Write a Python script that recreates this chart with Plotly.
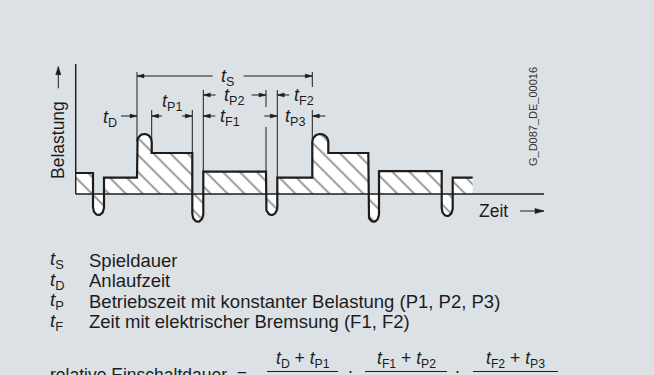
import numpy as np
import plotly.graph_objects as go

# ---------------- data ----------------
# phases of the load cycle (P: constant load, F: electrical braking dip, D: start-up peak)
phases = ["P2", "F2", "P3", "D", "P1", "F1", "P2", "F2", "P3", "D", "P1", "F1", "P2", "F2", "P3"]
durations = [17.3, 11.0, 33.0, 14.7, 40.6, 11.0, 62.7, 11.3, 35.0, 16.0, 40.0, 10.7, 62.7, 11.0, 20.0]
levels = [21.0, -21.0, 16.3, 60.0, 41.0, -27.7, 22.3, -21.0, 16.3, 60.0, 41.0, -27.7, 22.8, -22.0, 16.3]

legend_symbols = ["S", "D", "P", "F"]
legend_texts = ["Spieldauer", "Anlaufzeit",
                "Betriebszeit mit konstanter Belastung (P1, P2, P3)",
                "Zeit mit elektrischer Bremsung (F1, F2)"]
formula_label = "relative Einschaltdauer  ="
formula_terms = [("D", "P1"), ("F1", "P2"), ("F2", "P3")]
y_label = "Belastung"
x_label = "Zeit"
doc_id = "G_D087_DE_00016"

# ---------------- styling ----------------
BG = "#dce1e6"
INK = "#1c1c1c"
FONT = "Liberation Sans, Arial, sans-serif"
W, H = 654, 375
X0PX, Y0PX = 75.7, 194.0          # origin of the load/time axes in the picture

bounds = np.concatenate([[0.0], np.cumsum(durations)])

# ---------------- load curve ----------------
xs, ys = [], []
for i, (ph, lev) in enumerate(zip(phases, levels)):
    t0, t1 = bounds[i], bounds[i + 1]
    if ph.startswith("P"):
        xs += [t0, t1]
        ys += [lev, lev]
    elif ph.startswith("F"):
        rx, ry = (t1 - t0) / 2, 8.0
        cx, cy = t0 + rx, lev + ry
        ang = np.linspace(np.pi, 2 * np.pi, 25)
        xs += list(cx + rx * np.cos(ang))
        ys += list(cy + ry * np.sin(ang))
    else:  # D: start-up peak
        rx, ry = (t1 - t0) / 2, 8.0
        cx, cy = t0 + rx, lev - ry
        ang = np.linspace(np.pi, 0, 25)
        xs += list(cx + rx * np.cos(ang))
        ys += list(cy + ry * np.sin(ang))

fig = go.Figure()
fig.add_trace(go.Scatter(
    x=xs, y=ys, mode="lines", fill="tozeroy",
    fillcolor="white",
    fillpattern=dict(shape="\\", bgcolor="white", fgcolor=INK, size=12, solidity=0.15),
    line=dict(color=INK, width=2.2), hoverinfo="skip", showlegend=False))

# ---------------- axes (baseline, load axis) ----------------
t_end_axis = 544 - X0PX
fig.add_trace(go.Scatter(x=[0, t_end_axis], y=[0, 0], mode="lines",
                         line=dict(color=INK, width=1.5), hoverinfo="skip", showlegend=False))
fig.add_trace(go.Scatter(x=[0, 0], y=[0, Y0PX - 64], mode="lines",
                         line=dict(color=INK, width=1.4), hoverinfo="skip", showlegend=False))

# ---------------- dimension lines ----------------
seg_x, seg_y, head_x, head_y = [], [], [], []


def line(x0, y0, x1, y1):
    seg_x.extend([x0, x1, None])
    seg_y.extend([y0, y1, None])


def harrow(tail, tip, y, L=7.0, w=1.9):
    line(tail, y, tip, y)
    d = 1 if tip > tail else -1
    head_x.extend([tip, tip - d * L, tip - d * L, tip, None])
    head_y.extend([y, y + w, y - w, y, None])


def varrow(x, tail, tip, L=8.0, w=2.6):
    line(x, tail, x, tip)
    d = 1 if tip > tail else -1
    head_x.extend([x, x - w, x + w, x, None])
    head_y.extend([tip, tip - d * L, tip - d * L, tip, None])


def harrow2(tail, tip, y, L=9.0, w=2.6):
    line(tail, y, tip, y)
    d = 1 if tip > tail else -1
    head_x.extend([tip, tip - d * L, tip - d * L, tip, None])
    head_y.extend([y, y + w, y - w, y, None])


bD, bP1, bF1, bP2, bF2, bP3, bN = [bounds[k] for k in range(3, 10)]
lev_D, lev_P1, lev_P2, lev_P3 = levels[3], levels[4], levels[6], levels[8]
ROW_S, ROW_A, ROW_B = 118.0, 99.0, 78.0

# extension lines
line(bD, ROW_S + 4, bD, lev_D - 8)
line(bP1, ROW_B + 6, bP1, lev_P1)
line(bF1, ROW_B + 6, bF1, lev_P1)
line(bP2, ROW_A + 5, bP2, lev_P2)
line(bF2, ROW_A + 5, bF2, ROW_B + 9)
line(bF2, ROW_B - 11, bF2, lev_P2)
line(bP3, ROW_A + 5, bP3, lev_P3)
line(bN, ROW_S + 4, bN, ROW_S - 11)
line(bN, ROW_B + 6, bN, lev_D - 8)

mid_S = (bD + bN) / 2
harrow(mid_S - 12, bD, ROW_S)
harrow(mid_S + 19, bN, ROW_S)
mid_P2 = (bP2 + bF2) / 2
harrow(mid_P2 - 19, bP2, ROW_A)
harrow(mid_P2 + 17, bF2, ROW_A)
harrow(bP3 + 12, bP3, ROW_A)
harrow(bD - 16, bD, ROW_B)
mid_P1 = (bP1 + bF1) / 2
harrow(mid_P1 - 10, bP1, ROW_B)
harrow(mid_P1 + 10, bF1, ROW_B)
harrow(bP2 + 12, bP2, ROW_B)
harrow(bP3 - 13, bP3, ROW_B)
harrow(bN + 13, bN, ROW_B)

# axis arrows
varrow(-17.4, Y0PX - 88.3, Y0PX - 66.7)
harrow2(520 - X0PX, 544 - X0PX, -17.0)

fig.add_trace(go.Scatter(x=seg_x, y=seg_y, mode="lines", line=dict(color=INK, width=1),
                         hoverinfo="skip", showlegend=False))
fig.add_trace(go.Scatter(x=head_x, y=head_y, mode="lines", fill="toself", fillcolor=INK,
                         line=dict(color=INK, width=0.5), hoverinfo="skip", showlegend=False))


def tlabel(sub):
    return "<i>t</i><sub>%s</sub>" % sub


ann = []


def dtext(x, y, text, size=18, **kw):
    d = dict(x=x, y=y, xref="x", yref="y", text=text, showarrow=False,
             font=dict(family=FONT, size=size, color=INK), xanchor="center", yanchor="middle")
    d.update(kw)
    ann.append(d)


def ptext(xpx, ypx, text, size=18, **kw):
    d = dict(x=xpx / W, y=1 - ypx / H, xref="paper", yref="paper", text=text, showarrow=False,
             font=dict(family=FONT, size=size, color=INK), xanchor="center", yanchor="middle")
    d.update(kw)
    ann.append(d)


dtext(mid_S + 3, ROW_S - 1, tlabel("S"))
dtext(mid_P2 - 1, ROW_A - 1, tlabel("P2"))
dtext(bP3 + 27, ROW_A - 1, tlabel("F2"))
dtext(bD - 27, ROW_B - 2, tlabel("D"))
dtext(mid_P1, 92, tlabel("P1"))
dtext(bP2 + 27, ROW_B - 1, tlabel("F1"))
dtext((bP3 + bN) / 2, ROW_B - 1, tlabel("P3"))

# axis titles
dtext(-17.7, Y0PX - 140, y_label, size=17.5, textangle=-90)
dtext(493 - X0PX, -17.0, x_label, size=17.5)
dtext(533 - X0PX, Y0PX - 117, doc_id, size=11, textangle=-90, font=dict(family=FONT, size=11, color="#333"))

# legend block
rows_px = [260, 280.5, 301, 321.5]
for sym, txt, ypx in zip(legend_symbols, legend_texts, rows_px):
    ptext(48, ypx, tlabel(sym), size=18.5, xanchor="left")
    ptext(86.5, ypx, txt, size=18.5, xanchor="left")

# formula
ptext(48, 375, formula_label, size=17.5, xanchor="left")
frac_px = [(267, 338), (365, 447), (473, 558)]
shapes = []
for (a, b), (x0p, x1p) in zip(formula_terms, frac_px):
    ptext((x0p + x1p) / 2, 359, tlabel(a) + " + " + tlabel(b), size=17.5)
    shapes.append(dict(type="line", xref="paper", yref="paper", x0=x0p / W, x1=x1p / W,
                       y0=1 - 371.5 / H, y1=1 - 371.5 / H, line=dict(color=INK, width=1)))
for xp in [350, 458]:
    ptext(xp, 367, ".", size=17.5)

fig.update_layout(
    width=W, height=H, margin=dict(l=0, r=0, t=0, b=0),
    paper_bgcolor=BG, plot_bgcolor=BG,
    xaxis=dict(range=[-X0PX, W - X0PX], visible=False, fixedrange=True),
    yaxis=dict(range=[Y0PX - H, Y0PX], visible=False, fixedrange=True),
    annotations=ann, shapes=shapes, showlegend=False,
)
fig.write_html("out.html", config={"displayModeBar": False},
               post_script="document.body.style.margin='0';document.body.style.background='%s';" % BG)
